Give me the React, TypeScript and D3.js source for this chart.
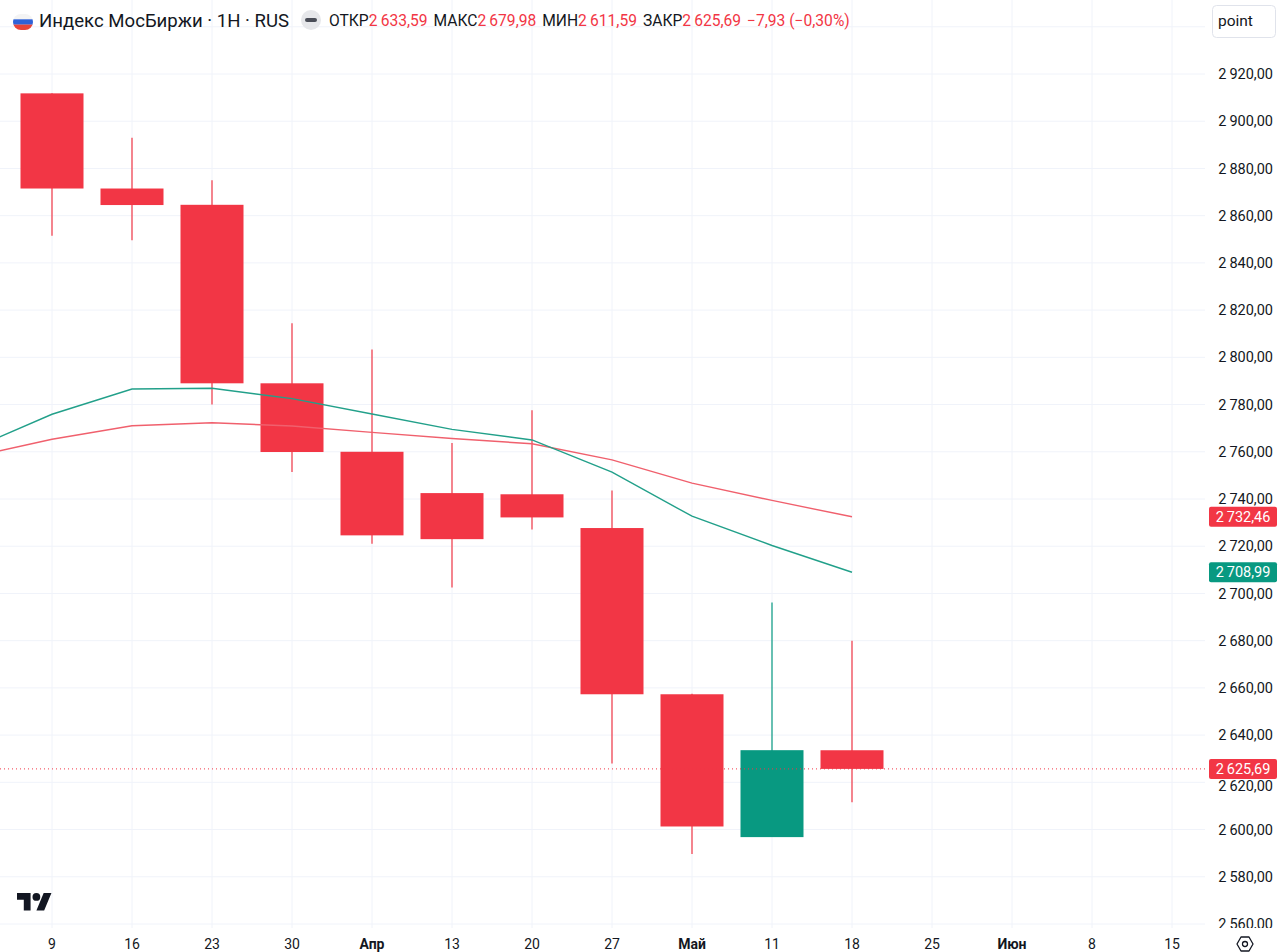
import React from "react";
import * as d3 from "d3";

// ---- data ----
const weekLabels = ["9", "16", "23", "30", "Апр", "13", "20", "27", "Май", "11", "18", "25", "Июн", "8", "15"];
const monthLabels = ["Апр", "Май", "Июн"];

const opens = [2911.8, 2871.5, 2864.6, 2789.0, 2760.0, 2742.5, 2742.0, 2727.7, 2657.3, 2596.8, 2633.59];
const highs = [2911.8, 2893.0, 2875.0, 2814.4, 2803.3, 2763.7, 2777.6, 2743.6, 2657.5, 2696.2, 2679.98];
const lows = [2851.5, 2849.6, 2780.0, 2751.4, 2721.0, 2702.5, 2727.1, 2628.0, 2589.6, 2596.8, 2611.59];
const closes = [2871.5, 2864.5, 2789.0, 2759.9, 2724.6, 2723.0, 2732.2, 2657.3, 2601.3, 2633.62, 2625.69];

// moving averages, first value belongs to the week before the first candle
const maFast = [2761.3, 2775.9, 2786.6, 2786.9, 2782.5, 2776.0, 2769.5, 2765.0, 2751.4, 2732.7, 2720.3, 2708.99];
const maSlow = [2757.8, 2765.3, 2771.0, 2772.3, 2770.9, 2768.2, 2765.6, 2763.4, 2756.6, 2746.7, 2739.4, 2732.46];

const priceTicks = d3.range(2560, 2941, 20);

const UP = "#089981";
const DOWN = "#F23645";
const TEXT = "#131722";
const GRID = "#f0f3fa";
const FONT = "Roboto, 'Noto Sans', sans-serif";

const W = 1280;
const H = 952;
const plotRight = 1205;
const plotBottom = 928;

const ruFmt = d3.formatLocale({
  decimal: ",",
  thousands: "\u2009",
  grouping: [3],
  currency: ["", ""],
  minus: "\u2212",
});
const fmt = ruFmt.format(",.2f");

export default function App() {
  const x = d3.scaleLinear().domain([0, 1]).range([52, 132]);
  const y = d3.scaleLinear().domain([2560, 2920]).range([924, 74]);
  const bodyW = 63;

  const line = d3
    .line<number>()
    .x((_, i) => x(i - 1))
    .y((d) => y(d));

  const last = closes.length - 1;
  const lastClose = closes[last];
  const prevClose = closes[last - 1];
  const chg = lastClose - prevClose;
  const chgPct = (chg / prevClose) * 100;

  const priceLabels = [
    { v: maSlow[maSlow.length - 1], c: DOWN },
    { v: maFast[maFast.length - 1], c: UP },
    { v: lastClose, c: DOWN },
  ];
  const closeY = y(lastClose);

  return (
    <svg
      width={W}
      height={H}
      style={{ position: "absolute", left: 0, top: 0, background: "#fff", fontFamily: FONT }}
    >
      <defs>
        <clipPath id="plot">
          <rect x={0} y={0} width={plotRight} height={plotBottom} />
        </clipPath>
        <clipPath id="axis">
          <rect x={plotRight} y={0} width={W - plotRight} height={plotBottom} />
        </clipPath>
        <clipPath id="flag">
          <rect x={13} y={14} width={20} height={16} rx={8} ry={8} />
        </clipPath>
      </defs>
      <rect x={0} y={0} width={W} height={H} fill="#fff" />

      {/* grid */}
      <g clipPath="url(#plot)">
        {weekLabels.map((_, i) => (
          <line key={"vg" + i} x1={x(i)} x2={x(i)} y1={0} y2={plotBottom} stroke={GRID} strokeWidth={1} />
        ))}
        {priceTicks.map((t) => (
          <line key={"hg" + t} x1={0} x2={plotRight} y1={y(t)} y2={y(t)} stroke={GRID} strokeWidth={1} />
        ))}
      </g>

      {/* candles */}
      <g clipPath="url(#plot)">
        {opens.map((o, i) => {
          const c = closes[i];
          const col = c >= o ? UP : DOWN;
          const top = y(Math.max(o, c));
          const bot = y(Math.min(o, c));
          return (
            <g key={"c" + i}>
              <line x1={x(i)} x2={x(i)} y1={y(highs[i])} y2={y(lows[i])} stroke={col} strokeWidth={1.2} />
              <rect x={x(i) - bodyW / 2} y={top} width={bodyW} height={Math.max(1, bot - top)} fill={col} />
            </g>
          );
        })}
      </g>

      {/* moving averages */}
      <g clipPath="url(#plot)">
        <path d={line(maSlow) || ""} fill="none" stroke="#f0606d" strokeWidth={1.4} />
        <path d={line(maFast) || ""} fill="none" stroke="#22a08a" strokeWidth={1.4} />
        <line
          x1={0}
          x2={plotRight}
          y1={closeY}
          y2={closeY}
          stroke={DOWN}
          strokeWidth={1}
          strokeDasharray="1,3"
        />
      </g>

      {/* price axis labels */}
      <g clipPath="url(#axis)">
        {priceTicks
          .filter((t) => t <= 2920)
          .map((t) => (
            <text
              key={"pt" + t}
              x={1273}
              y={y(t) + (Math.abs(y(t) - closeY) < 18 ? 4 : 0)}
              dy="0.35em"
              textAnchor="end"
              fontSize={14.5}
              fill={TEXT}
            >
              {fmt(t)}
            </text>
          ))}
      </g>
      {priceLabels.map((p, i) => (
        <g key={"pl" + i}>
          <rect x={1209} y={y(p.v) - 10} width={68} height={20} rx={2} fill={p.c} />
          <text x={1243} y={y(p.v)} dy="0.35em" textAnchor="middle" fontSize={14.5} fill="#fff">
            {fmt(p.v)}
          </text>
        </g>
      ))}

      {/* time axis */}
      {weekLabels.map((l, i) => (
        <text
          key={"tl" + i}
          x={x(i)}
          y={944}
          dy="0.35em"
          textAnchor="middle"
          fontSize={14}
          fontWeight={monthLabels.includes(l) ? 700 : 400}
          fill={TEXT}
        >
          {l}
        </text>
      ))}

      {/* settings icon */}
      <g transform="translate(1245,944)" fill="none" stroke={TEXT} strokeWidth={1.3}>
        <path d="M-4,-7 L4,-7 L8,0 L4,7 L-4,7 L-8,0 Z" strokeLinejoin="round" />
        <circle r={2.5} />
      </g>

      {/* TradingView logo */}
      <g transform="translate(17,893) scale(0.97)" fill={TEXT}>
        <path d="M14 18H7V7H0V0h14v18zM28 18h-8l7.5-18h8L28 18z" />
        <circle cx={20} cy={4} r={4} />
      </g>

      {/* header */}
      <g clipPath="url(#flag)">
        <rect x={13} y={14} width={20} height={5.4} fill="#f4f4f4" />
        <rect x={13} y={19.3} width={20} height={5.4} fill="#2f62d8" />
        <rect x={13} y={24.6} width={20} height={5.6} fill="#e8443a" />
      </g>
      <text x={39} y={27} fontSize={18.6} fill={TEXT}>
        Индекс МосБиржи · 1H · RUS
      </text>
      <circle cx={311} cy={20} r={10} fill="#e6e7ea" />
      <rect x={305} y={18} width={12} height={4} rx={2} fill="#4a4d57" />
      <text x={329} y={26} fontSize={15.6} fill={TEXT}>
        <tspan>ОТКР</tspan>
        <tspan fill={DOWN}>{fmt(opens[last])}</tspan>
        <tspan dx={6}>МАКС</tspan>
        <tspan fill={DOWN}>{fmt(highs[last])}</tspan>
        <tspan dx={6}>МИН</tspan>
        <tspan fill={DOWN}>{fmt(lows[last])}</tspan>
        <tspan dx={6}>ЗАКР</tspan>
        <tspan fill={DOWN}>{fmt(lastClose)}</tspan>
        <tspan dx={6} fill={DOWN}>
          {ruFmt.format("+.2f")(chg).replace("+", "")} ({ruFmt.format(".2f")(chgPct)}%)
        </tspan>
      </text>

      {/* point button */}
      <rect x={1212.5} y={5.5} width={63} height={32} rx={4} fill="#fff" stroke="#e0e3eb" />
      <text x={1218} y={26} fontSize={15.5} fill={TEXT}>
        point
      </text>
    </svg>
  );
}
